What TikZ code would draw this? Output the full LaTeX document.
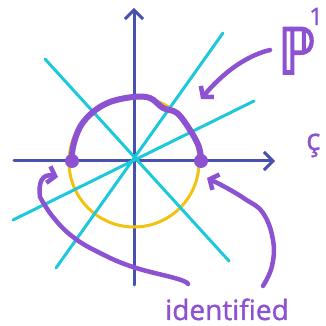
\documentclass[tikz,border=0pt]{standalone}
\usepackage{fontspec}
\newfontfamily\handfont[FakeBold=1.2]{Open Sans}
\newfontfamily\bbfont[FakeBold=2.5]{DejaVu Sans}
\usetikzlibrary{arrows.meta}
\definecolor{axisblue}{HTML}{4A50B0}
\definecolor{linecyan}{HTML}{1CC8DA}
\definecolor{circyellow}{HTML}{F2C20F}
\definecolor{pp}{HTML}{8C52D2}
\begin{document}
\begin{tikzpicture}[x=1pt,y=1pt,
  axisline/.style={draw=axisblue,line width=3pt,line cap=round,-{Straight Barb[length=9pt,width=18pt]}},
  rayline/.style={draw=linecyan,line width=3pt,line cap=round},
  halfline/.style={draw=pp,line width=6pt,line cap=round},
  note/.style={draw=pp,line width=4.5pt,line cap=round,-{Straight Barb[length=7pt,width=17pt]}},
  dot/.style={circle,fill=pp,inner sep=0pt,minimum size=14pt},
  lbl/.style={text=pp,inner sep=0pt}]
\useasboundingbox (0,0) rectangle (326,326);
% axes
\coordinate (xs) at (14,165); \coordinate (xe) at (275,165);
\coordinate (ys) at (134,41); \coordinate (ye) at (134,318);
\draw[axisline] (xs) -- (xe);
\draw[axisline] (ys) -- (ye);
% circle
\draw[circyellow,line width=3pt] (134,164) circle[radius=65];
% lines through origin
\coordinate (a1) at (45,267); \coordinate (a2) at (229,65);
\coordinate (b1) at (223,293); \coordinate (b2) at (56,58);
\coordinate (c1) at (254,225); \coordinate (c2) at (13,106);
\draw[rayline] (a1) -- (a2);
\draw[rayline] (b1) -- (b2);
\draw[rayline] (c1) -- (c2);
% upper half circle
\node[dot] (dl) at (72,165) {};
\node[dot] (dr) at (201,165) {};
\draw[halfline] plot[smooth,tension=0.6] coordinates {(dl.center) (73,179) (80,199) (93,214) (110,224) (133,229) (150,228) (163,218) (177,213) (190,196) (199,179) (dr.center)};
% labels
\node[lbl,anchor=base west,xscale=0.82,font=\bbfont\fontsize{64}{64}\selectfont] (P) at (278,252) {ℙ};
\node[lbl,anchor=base west,font=\handfont\fontsize{24}{24}\selectfont] (one) at (309,301) {1};
\node[lbl,anchor=base west,font=\handfont\fontsize{28}{28}\selectfont] (id) at (165,6) {identified};
\node[lbl,anchor=base west,font=\handfont\fontsize{30}{30}\selectfont] (cc) at (306,176) {ç};
% arrows
\coordinate (pA) at (270,276); \coordinate (pT) at (201,227);
\draw[note] (pA) .. controls (245,270) and (222,252) .. (pT);
\coordinate (lA) at (188,42); \coordinate (lT) at (58,149);
\draw[note] plot[smooth,tension=0.7] coordinates {(lA) (178,47) (133,59) (100,73) (73,89) (53,109) (40,129)} .. controls (38,143) and (42,153) .. (lT);
\coordinate (rA) at (263,40); \coordinate (rT) at (207,148);
\draw[note] plot[smooth,tension=0.7] coordinates {(rA) (272,60) (273,86) (263,113) (245,127) (225,139) (rT)};
\end{tikzpicture}
\end{document}
